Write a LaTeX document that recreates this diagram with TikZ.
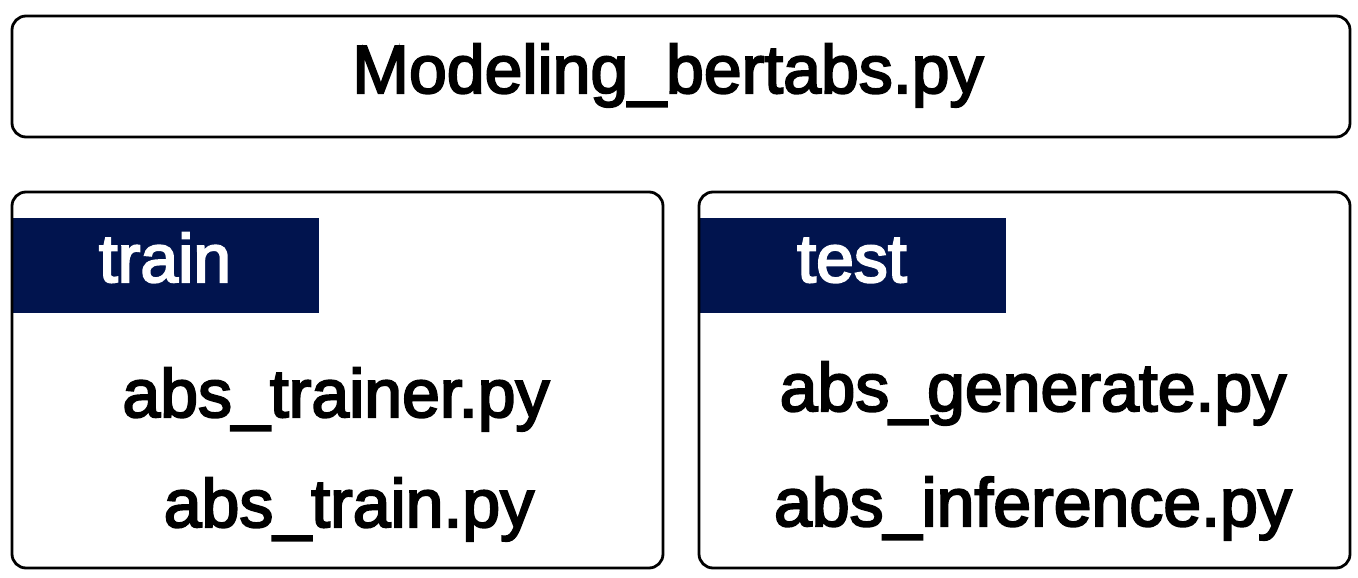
\documentclass[tikz,border=0pt]{standalone}
\usepackage{fontspec}
\newfontfamily\boxfont{Liberation Sans}[FakeBold=3]
\definecolor{mnavy}{RGB}{1,20,78}
\newcommand*{\colBand}{mnavy}
\newcommand*{\colFrame}{black}
\newcommand*{\txtSize}{\fontsize{68}{80}\selectfont}
\newcommand*{\xLeft}{12}
\newcommand*{\xMidL}{663}
\newcommand*{\xMidR}{699}
\newcommand*{\xRight}{1350}
\newcommand*{\bandW}{307}
\newcommand*{\yTop}{16}
\newcommand*{\yTopEnd}{137}
\newcommand*{\yBox}{192}
\newcommand*{\yBoxEnd}{568}
\newcommand*{\yBand}{218}
\newcommand*{\yBandEnd}{313}

\begin{document}
\begin{tikzpicture}[x=1pt,y=-1pt,
    frame/.style={draw=\colFrame, line width=2.8pt, rounded corners=14pt},
    label/.style={font=\boxfont\txtSize, anchor=base, inner sep=0pt},
    bandlabel/.style={label, text=white}]

    \useasboundingbox (0,0) rectangle (1358,578);

    % top box
    \draw [frame] (\xLeft,\yTop) rectangle (\xRight,\yTopEnd);
    \node [label] (modeling) at (668,93) {Modeling\_bertabs.py};

    % train box
    \fill [\colBand] (\xLeft,\yBand) rectangle (\xLeft+\bandW,\yBandEnd);
    \draw [frame] (\xLeft,\yBox) rectangle (\xMidL,\yBoxEnd);
    \node [bandlabel] (train) at (\xLeft+153,282) {train};
    \foreach \x/\y/\name/\file in {336/417/trainer/abs\_trainer.py, 349/527/trainpy/abs\_train.py} {
        \node [label] (\name) at (\x,\y) {\file};
    }

    % test box
    \fill [\colBand] (\xMidR,\yBand) rectangle (\xMidR+\bandW,\yBandEnd);
    \draw [frame] (\xMidR,\yBox) rectangle (\xRight,\yBoxEnd);
    \node [bandlabel] (test) at (\xMidR+153,282) {test};
    \foreach \x/\y/\name/\file in {1033/411/generate/abs\_generate.py, 1033/526/inference/abs\_inference.py} {
        \node [label] (\name) at (\x,\y) {\file};
    }

\end{tikzpicture}
\end{document}
